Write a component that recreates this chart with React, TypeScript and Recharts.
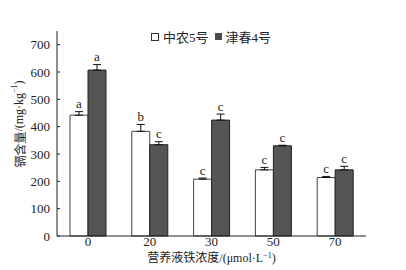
import { Bar, BarChart, ErrorBar, LabelList, Legend, XAxis, YAxis } from "recharts";

const categories = ["0", "20", "30", "50", "70"];
const zhongnong5 = [442, 383, 208, 242, 214];
const jinchun4 = [607, 334, 424, 330, 242];
const zhongnong5Err = [13, 25, 4, 9, 4];
const jinchun4Err = [20, 11, 22, 2, 13];
const zhongnong5Sig = ["a", "b", "c", "c", "c"];
const jinchun4Sig = ["a", "c", "c", "c", "c"];
const yTicks = [0, 100, 200, 300, 400, 500, 600, 700];

const data = categories.map((c, i) => ({
  conc: c,
  zn: zhongnong5[i],
  jc: jinchun4[i],
  znErr: [0, zhongnong5Err[i]],
  jcErr: [0, jinchun4Err[i]],
}));

const W = 406;
const H = 270;
const MARGIN = { top: 12, right: 40, left: 0, bottom: 0 };
const X_AXIS_H = 34;
const Y_MAX = 750;
const PLOT_H = H - MARGIN.top - MARGIN.bottom - X_AXIS_H;
const SERIF = '"Liberation Serif", "DejaVu Serif", serif';
const CJK = '"Noto Sans CJK SC", sans-serif';

const sigLabel = (errs: number[], sigs: string[]) => (props: any) => {
  const { x, y, width, index } = props;
  const off = (errs[index] * PLOT_H) / Y_MAX;
  return (
    <text
      x={x + width / 2}
      y={y - off - 3}
      textAnchor="middle"
      fontSize={13}
      style={{ fontFamily: SERIF }}
      fill="#222"
    >
      {sigs[index]}
    </text>
  );
};

const YLabel = () => (
  <text
    transform="translate(19,124) rotate(-90)"
    textAnchor="middle"
    dominantBaseline="central"
    fontSize={12}
    fill="#222"
  >
    <tspan style={{ fontFamily: CJK }}>镉含量</tspan>
    <tspan style={{ fontFamily: SERIF }}>/(mg·kg</tspan>
    <tspan style={{ fontFamily: SERIF }} fontSize={8} dy={-5}>−1</tspan>
    <tspan style={{ fontFamily: SERIF }} dy={5}>)</tspan>
  </text>
);

const XLabel = (props: any) => {
  const { viewBox } = props;
  const cx = viewBox.x + viewBox.width / 2;
  return (
    <text x={cx} y={262} textAnchor="middle" fontSize={12} fill="#222">
      <tspan style={{ fontFamily: CJK }}>营养液铁浓度</tspan>
      <tspan style={{ fontFamily: SERIF }}>/(μmol·L</tspan>
      <tspan style={{ fontFamily: SERIF }} fontSize={8} dy={-4}>−1</tspan>
      <tspan style={{ fontFamily: SERIF }} dy={4}>)</tspan>
    </text>
  );
};

const LegendContent = () => (
  <div
    style={{
      display: "flex",
      alignItems: "center",
      fontFamily: CJK,
      fontSize: 13,
      color: "#222",
      gap: 4,
    }}
  >
    <span style={{ width: 6, height: 6, border: "1px solid #333", background: "#fff" }} />
    <span>
      中农<span style={{ fontFamily: SERIF }}>5</span>号
    </span>
    <span style={{ width: 7, height: 7, background: "#4a4a4a", marginLeft: 2 }} />
    <span>
      津春<span style={{ fontFamily: SERIF }}>4</span>号
    </span>
  </div>
);

const tickStyle = { fontSize: 13, fill: "#222", style: { fontFamily: SERIF } };

export default function App() {
  return (
    <div style={{ position: "absolute", left: 0, top: 0, background: "#fff" }}>
      <BarChart width={W} height={H} data={data} margin={MARGIN} barGap={0}>
        <XAxis
          dataKey="conc"
          height={X_AXIS_H}
          axisLine={{ stroke: "#222" }}
          tickLine={false}
          tickSize={0}
          tickMargin={1}
          tick={tickStyle}
          label={<XLabel />}
        />
        <YAxis
          width={57}
          domain={[0, Y_MAX]}
          ticks={yTicks}
          axisLine={{ stroke: "#222" }}
          tickLine={{ stroke: "#222" }}
          tickSize={-3}
          tickMargin={10}
          tick={tickStyle}
          label={<YLabel />}
        />
        <Legend
          verticalAlign="top"
          content={<LegendContent />}
          wrapperStyle={{ top: 27, left: 151, width: "auto" }}
        />
        <Bar
          dataKey="zn"
          name="中农5号"
          fill="#fff"
          stroke="#444"
          strokeWidth={1}
          barSize={18}
          isAnimationActive={false}
        >
          <ErrorBar dataKey="znErr" width={4} stroke="#111" strokeWidth={1} />
          <LabelList content={sigLabel(zhongnong5Err, zhongnong5Sig)} />
        </Bar>
        <Bar
          dataKey="jc"
          name="津春4号"
          fill="#555"
          stroke="#222"
          strokeWidth={1}
          barSize={18}
          isAnimationActive={false}
        >
          <ErrorBar dataKey="jcErr" width={4} stroke="#111" strokeWidth={1} />
          <LabelList content={sigLabel(jinchun4Err, jinchun4Sig)} />
        </Bar>
      </BarChart>
    </div>
  );
}
